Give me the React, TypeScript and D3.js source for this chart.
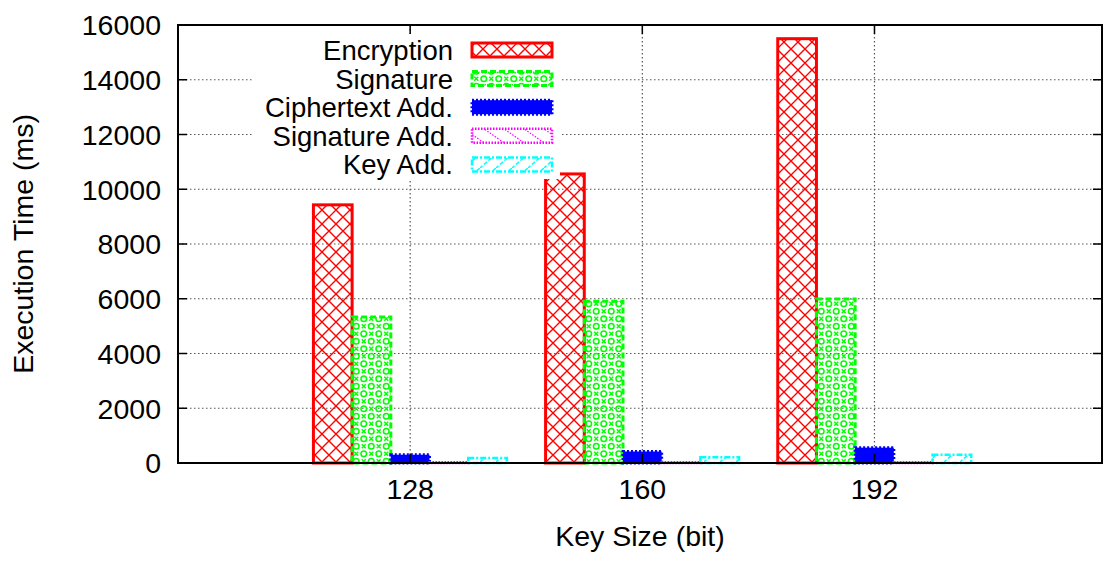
import * as d3 from 'd3';

const categories = ['128', '160', '192'];
const seriesNames = ['Encryption', 'Signature', 'Ciphertext Add.', 'Signature Add.', 'Key Add.'];
const encryption = [9430, 10560, 15500];
const signature = [5330, 5910, 5990];
const ciphertextAdd = [300, 420, 560];
const signatureAdd = [30, 30, 30];
const keyAdd = [180, 210, 300];
const yTicks = [0, 2000, 4000, 6000, 8000, 10000, 12000, 14000, 16000];

const series = [encryption, signature, ciphertextAdd, signatureAdd, keyAdd];

// per-series look, gnuplot style
const styles = [
  { color: '#ff0000', fill: 'url(#pEnc)', dash: 'none', sw: 3 },
  { color: '#00ff00', fill: 'url(#pSig)', dash: '6,3', sw: 3 },
  { color: '#0000ff', fill: '#0000ff', dash: '2,2', sw: 3 },
  { color: '#ff00ff', fill: 'url(#pSigAdd)', dash: '1.5,1.5', sw: 2.5 },
  { color: '#00ffff', fill: 'url(#pKey)', dash: '6,2,2,2', sw: 2.5 },
];

const font = '"Liberation Sans", Arial, Helvetica, sans-serif';
const fs = 28.5;

const App = () => {
  const width = 1110;
  const height = 561;
  const margin = { top: 25, right: 8, bottom: 98, left: 178 };

  const xScale = d3.scaleLinear()
    .domain([-1, 2.98])
    .range([margin.left, width - margin.right]);
  const yScale = d3.scaleLinear()
    .domain([0, 16000])
    .range([height - margin.bottom, margin.top]);

  const step = xScale(1) - xScale(0);
  const bw = step / 6;
  const left = margin.left;
  const right = width - margin.right;
  const top = margin.top;
  const bottom = height - margin.bottom;
  const tickLen = 9;

  const legendRight = 453;
  const swX = 472;
  const swW = 80;
  const rowY = (i: number) => 50 + i * 28.6;

  return (
    <svg width={width} height={height} style={{ position: 'absolute', left: 0, top: 0, background: '#fff' }}>
      <defs>
        <pattern id="pEnc" patternUnits="userSpaceOnUse" width={14} height={14}>
          <path d="M0,0L14,14M14,0L0,14" stroke="#ff0000" strokeWidth={1.4} />
        </pattern>
        <pattern id="pSig" patternUnits="userSpaceOnUse" width={15} height={15}>
          <circle cx={3.75} cy={3.75} r={2.8} fill="none" stroke="#00ff00" strokeWidth={1.5} />
          <circle cx={11.25} cy={11.25} r={2.8} fill="none" stroke="#00ff00" strokeWidth={1.5} />
          <path d="M9.25,1.75L13.25,5.75M13.25,1.75L9.25,5.75M1.75,9.25L5.75,13.25M5.75,9.25L1.75,13.25" stroke="#00ff00" strokeWidth={1.5} />
        </pattern>
        <pattern id="pSigAdd" patternUnits="userSpaceOnUse" width={20} height={14}>
          <path d="M0,0L20,14" stroke="#ff00ff" strokeWidth={1.2} strokeDasharray="1.5,1.5" />
        </pattern>
        <pattern id="pKey" patternUnits="userSpaceOnUse" width={16} height={14}>
          <path d="M16,0L0,14" stroke="#00ffff" strokeWidth={1.5} strokeDasharray="4,2" />
        </pattern>
      </defs>

      {/* grid */}
      <g stroke="#555" strokeWidth={1.2} strokeDasharray="1.5,2.5">
        {yTicks.filter(t => t > 0 && t < 16000).map(t => (
          <line key={t} x1={left} x2={right} y1={yScale(t)} y2={yScale(t)} />
        ))}
        {categories.map((c, i) => (
          <line key={c} x1={xScale(i)} x2={xScale(i)} y1={top} y2={bottom} />
        ))}
      </g>

      {/* bars */}
      {series.map((vals, j) => (
        <g key={seriesNames[j]}>
          {vals.map((v, i) => (
            <rect
              key={i}
              x={xScale(i) + (j - 2.5) * bw}
              y={yScale(v)}
              width={bw}
              height={yScale(0) - yScale(v)}
              fill={styles[j].fill}
              stroke={styles[j].color}
              strokeWidth={styles[j].sw}
              strokeDasharray={styles[j].dash}
            />
          ))}
        </g>
      ))}

      {/* legend */}
      <rect x={252} y={34} width={308} height={145} fill="#fff" />
      {seriesNames.map((name, i) => (
        <g key={name}>
          <text
            x={legendRight}
            y={rowY(i)}
            dy="0.36em"
            textAnchor="end"
            fontFamily={font}
            fontSize={27.5}
          >{name}</text>
          <rect
            x={swX}
            y={rowY(i) - 7}
            width={swW}
            height={14}
            fill={styles[i].fill}
            stroke={styles[i].color}
            strokeWidth={styles[i].sw}
            strokeDasharray={styles[i].dash}
          />
        </g>
      ))}

      {/* frame and ticks */}
      <g stroke="#000" strokeWidth={1.5}>
        {yTicks.map(t => (
          <g key={t}>
            <line x1={left} x2={left + tickLen} y1={yScale(t)} y2={yScale(t)} />
            <line x1={right} x2={right - tickLen} y1={yScale(t)} y2={yScale(t)} />
          </g>
        ))}
        {categories.map((c, i) => (
          <g key={c}>
            <line x1={xScale(i)} x2={xScale(i)} y1={bottom} y2={bottom - tickLen} />
            <line x1={xScale(i)} x2={xScale(i)} y1={top} y2={top + tickLen} />
          </g>
        ))}
      </g>
      <rect x={left} y={top} width={right - left} height={bottom - top} fill="none" stroke="#000" strokeWidth={2} />

      {/* tick labels */}
      <g fontFamily={font} fontSize={fs}>
        {yTicks.map(t => (
          <text key={t} x={161} y={yScale(t)} dy="0.36em" textAnchor="end">{t}</text>
        ))}
        {categories.map((c, i) => (
          <text key={c} x={xScale(i)} y={499} textAnchor="middle">{c}</text>
        ))}
        <text x={(left + right) / 2} y={546} textAnchor="middle">Key Size (bit)</text>
        <text transform={`translate(33, ${(top + bottom) / 2}) rotate(-90)`} textAnchor="middle">Execution Time (ms)</text>
      </g>
    </svg>
  );
};

export default App;
